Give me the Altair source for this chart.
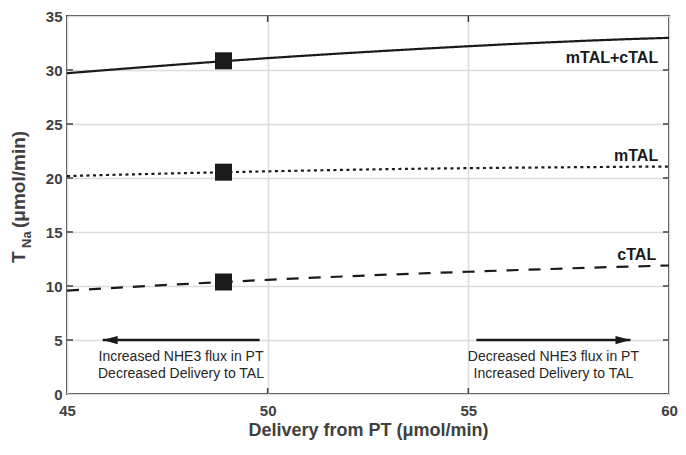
import altair as alt
import pandas as pd

# ---- data ----
x_vals = [45, 46, 47, 48, 49, 50, 51, 52, 53, 54, 55, 56, 57, 58, 59, 60]
y_total = [29.70, 30.00, 30.29, 30.57, 30.84, 31.10, 31.34, 31.57, 31.79, 32.00,
           32.20, 32.39, 32.56, 32.72, 32.86, 32.98]
y_mtal = [20.18, 20.28, 20.37, 20.46, 20.54, 20.62, 20.69, 20.76, 20.82, 20.87,
          20.91, 20.95, 20.98, 21.01, 21.04, 21.06]
y_ctal = [9.58, 9.79, 10.00, 10.20, 10.39, 10.57, 10.74, 10.90, 11.05, 11.19,
          11.32, 11.45, 11.57, 11.69, 11.80, 11.90]
series_names = ["mTAL+cTAL", "mTAL", "cTAL"]

marker_x = [48.9, 48.9, 48.9]
marker_y = [30.85, 20.54, 10.37]

label_text = ["mTAL+cTAL", "mTAL", "cTAL"]
label_x = [59.73, 59.73, 59.68]
label_y = [31.1, 22.0, 12.85]

note_text = ["Increased NHE3 flux in PT", "Decreased Delivery to TAL",
             "Decreased NHE3 flux in PT", "Increased Delivery to TAL"]
note_x = [47.84, 47.84, 57.12, 57.12]
note_y = [3.45, 1.88, 3.45, 1.88]

arrow_tail = [49.8, 55.2]
arrow_tip = [45.89, 59.04]
arrow_y = [5, 5]

x_ticks = [45, 50, 55, 60]
y_ticks = [0, 5, 10, 15, 20, 25, 30, 35]

W, H = 602, 378
FONT = "Liberation Sans"
DARK = "#1a1a1a"
AXC = "#404040"

xsc = alt.Scale(domain=[45, 60], nice=False, zero=False)
ysc = alt.Scale(domain=[0, 35], nice=False, zero=False)

rows = []
for name, ys in zip(series_names, [y_total, y_mtal, y_ctal]):
    for xv, yv in zip(x_vals, ys):
        rows.append({"x": xv, "y": yv, "series": name})
df_lines = pd.DataFrame(rows)

x_axis = alt.Axis(values=x_ticks, title="Delivery from PT (μmol/min)", grid=True,
                  gridColor="#dcdcdc", gridWidth=1.5, ticks=False, domain=False,
                  labelFont=FONT, labelFontSize=15, labelFontWeight="bold",
                  labelColor=AXC, labelPadding=9, labelFlush=False, format="d",
                  titleFont=FONT, titleFontSize=18, titleFontWeight="bold",
                  titleColor=AXC, titleY=36, titleBaseline="middle")
y_axis = alt.Axis(values=y_ticks, title=None, grid=True, gridColor="#dcdcdc",
                  gridWidth=1.5, ticks=False, domain=False, labelFont=FONT,
                  labelFontSize=15, labelFontWeight="bold", labelColor=AXC,
                  labelPadding=5, format="d", labelFlush=False)


def X(field="x"):
    return alt.X(f"{field}:Q", scale=xsc, axis=x_axis)


def Y(field="y"):
    return alt.Y(f"{field}:Q", scale=ysc, axis=y_axis)


lines = alt.Chart(df_lines).mark_line(color=DARK, strokeWidth=2.2).encode(
    x=X(), y=Y(),
    detail="series:N",
    strokeDash=alt.StrokeDash("series:N", scale=alt.Scale(
        domain=series_names, range=[[1, 0], [3, 3.5], [12, 10]]), legend=None),
)

markers = alt.Chart(pd.DataFrame({"x": marker_x, "y": marker_y})).mark_square(
    size=289, color=DARK, opacity=1, filled=True).encode(x=X(), y=Y())

labels = alt.Chart(pd.DataFrame({"x": label_x, "y": label_y, "t": label_text})).mark_text(
    align="right", baseline="middle", font=FONT, fontSize=16, fontWeight="bold",
    color=DARK).encode(x=X(), y=Y(), text="t:N")

notes = alt.Chart(pd.DataFrame({"x": note_x, "y": note_y, "t": note_text})).mark_text(
    align="center", baseline="middle", font=FONT, fontSize=14, color="#262626").encode(
    x=X(), y=Y(), text="t:N")

df_arrows = pd.DataFrame({"x": arrow_tail, "x2": arrow_tip, "y": arrow_y})
shafts = alt.Chart(df_arrows).mark_rule(color=DARK, strokeWidth=2.5).encode(
    x=X(), x2="x2:Q", y=Y())

head_left = alt.Chart(pd.DataFrame({"x": [arrow_tip[0]], "y": [arrow_y[0]]})).mark_point(
    shape="M0,0L2,-0.55L2,0.55Z", size=225, filled=True, color=DARK, opacity=1,
    strokeWidth=0).encode(x=X(), y=Y())
head_right = alt.Chart(pd.DataFrame({"x": [arrow_tip[1]], "y": [arrow_y[1]]})).mark_point(
    shape="M0,0L-2,-0.55L-2,0.55Z", size=225, filled=True, color=DARK, opacity=1,
    strokeWidth=0).encode(x=X(), y=Y())

# inward tick marks (MATLAB style box)
yt = pd.DataFrame({"y": y_ticks[1:-1]})
xt = pd.DataFrame({"x": x_ticks[1:-1]})
tick_style = dict(color=AXC, strokeWidth=1.5)
t_left = alt.Chart(yt).mark_rule(**tick_style).encode(
    y=Y(), x=alt.value(0), x2=alt.value(6))
t_right = alt.Chart(yt).mark_rule(**tick_style).encode(
    y=Y(), x=alt.value(W - 6), x2=alt.value(W))
t_bottom = alt.Chart(xt).mark_rule(**tick_style).encode(
    x=X(), y=alt.value(H), y2=alt.value(H - 6))
t_top = alt.Chart(xt).mark_rule(**tick_style).encode(
    x=X(), y=alt.value(0), y2=alt.value(6))

# y-axis title with subscript
title_style = dict(angle=270, align="left", baseline="middle", font=FONT,
                   fontWeight="bold", color=AXC)
one = pd.DataFrame({"k": [0]})
yt_T = alt.Chart(one).mark_text(fontSize=19, **title_style).encode(
    x=alt.value(-48), y=alt.value(247), text=alt.value("T"))
yt_Na = alt.Chart(one).mark_text(fontSize=13, **title_style).encode(
    x=alt.value(-40), y=alt.value(232), text=alt.value("Na"))
yt_unit = alt.Chart(one).mark_text(fontSize=19, **title_style).encode(
    x=alt.value(-48), y=alt.value(212), text=alt.value("(μmol/min)"))

chart = alt.layer(
    lines, markers, labels, notes, shafts, head_left, head_right,
    t_left, t_right, t_bottom, t_top, yt_T, yt_Na, yt_unit
).properties(
    width=W, height=H,
    padding={"left": 59, "top": 8, "right": 9, "bottom": 48},
    autosize=alt.AutoSizeParams(type="none"),
).configure_view(stroke=AXC, strokeWidth=2)

chart.save("out.html", embed_options={"renderer": "svg", "actions": False})
